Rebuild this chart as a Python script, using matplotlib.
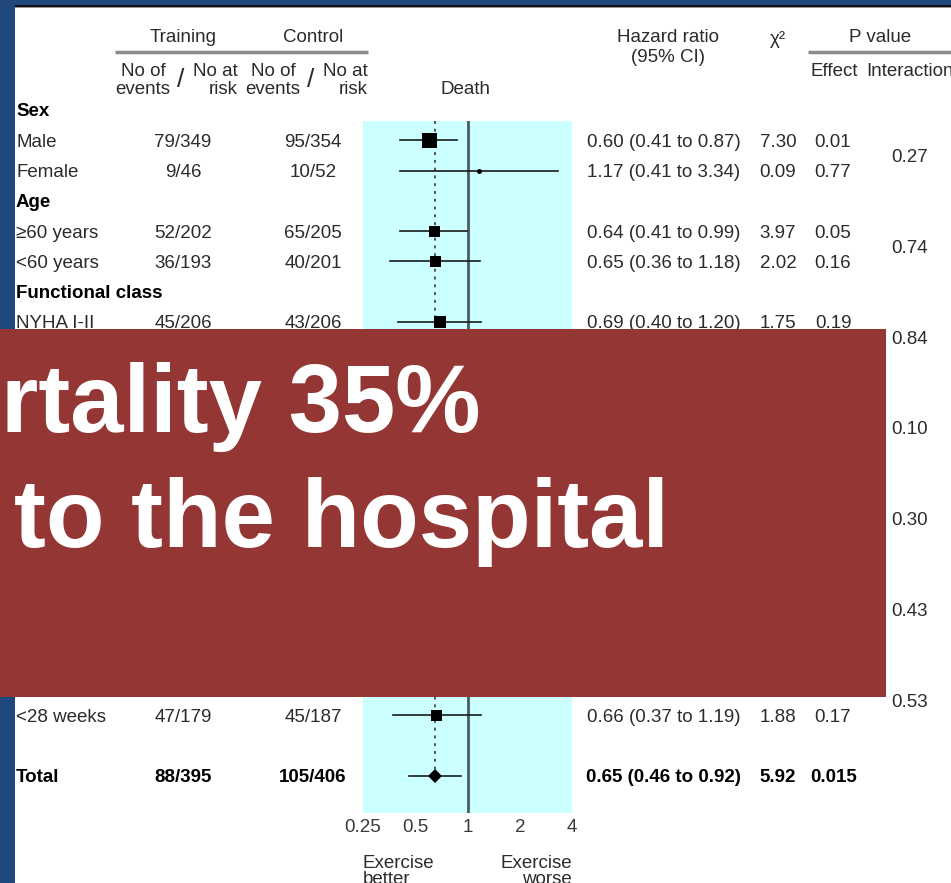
import matplotlib.pyplot as plt
from matplotlib.patches import Rectangle

# ── Data ──────────────────────────────────────────────────────────────────────
group_labels = ['Sex', 'Age', 'Functional class']
group_rows   = [0, 3, 6]

sub_labels = ['Male', 'Female', '≥60 years', '<60 years', 'NYHA I-II', '<28 weeks']
sub_rows   = [1, 2, 4, 5, 7, 20]
training   = ['79/349', '9/46', '52/202', '36/193', '45/206', '47/179']
control    = ['95/354', '10/52', '65/205', '40/201', '43/206', '45/187']
hr         = [0.60, 1.17, 0.64, 0.65, 0.69, 0.66]
hr_lo      = [0.41, 0.41, 0.41, 0.36, 0.40, 0.37]
hr_hi      = [0.87, 3.34, 0.99, 1.18, 1.20, 1.19]
chi2       = [7.30, 0.09, 3.97, 2.02, 1.75, 1.88]
p_effect   = ['0.01', '0.77', '0.05', '0.16', '0.19', '0.17']

interaction      = ['0.27', '0.74', '0.84', '0.10', '0.30', '0.43', '0.53']
interaction_rows = [1.5, 4.5, 7.5, 10.5, 13.5, 16.5, 19.5]

total_row = 22
total_training, total_control = '88/395', '105/406'
total_hr, total_lo, total_hi = 0.65, 0.46, 0.92
total_chi2, total_p = 5.92, '0.015'

xticks = [0.25, 0.5, 1, 2, 4]
xtick_labels = ['0.25', '0.5', '1', '2', '4']

# ── Style ─────────────────────────────────────────────────────────────────────
W, H = 951, 883
BLUE, RED, CYAN = '#1F497D', '#943634', '#CCFFFF'
TXT = '#2b2b2b'
FS = 13.5
DY = 2                              # text baseline nudge (pixels)
box_px = [15, 5, 11, 11, 12, 11]   # marker widths in pixels
plt.rcParams['font.family'] = ['Liberation Sans', 'DejaVu Sans']


def row_y(r):
    return 110 + 30.27 * r


fig = plt.figure(figsize=(W / 100, H / 100), dpi=100)
fig.patch.set_facecolor('white')

# background / table axes in pixel coordinates
bg = fig.add_axes([0, 0, 1, 1])
bg.set_xlim(0, W)
bg.set_ylim(H, 0)
bg.axis('off')

bg.add_patch(Rectangle((0, 0), 15, H, color=BLUE, lw=0))
bg.add_patch(Rectangle((0, 0), W, 4.5, color=BLUE, lw=0))
bg.add_patch(Rectangle((15, 4.5), W, 2, color='#111111', lw=0))
bg.add_patch(Rectangle((15, 6.5), W, 1, color='#999999', lw=0))

# column headers
hdr = dict(fontsize=FS, color=TXT, va='center')
bg.text(183, 36 + DY, 'Training', ha='center', **hdr)
bg.text(313, 36 + DY, 'Control', ha='center', **hdr)
bg.plot([115, 368], [52, 52], color='#8a8a8a', lw=2.5, solid_capstyle='butt')
for cx in (183, 313):
    bg.text(cx - 40, 70 + DY, 'No of', ha='center', **hdr)
    bg.text(cx - 40, 87 + DY, 'events', ha='center', **hdr)
    bg.text(cx + 55, 70 + DY, 'No at', ha='right', **hdr)
    bg.text(cx + 55, 87 + DY, 'risk', ha='right', **hdr)
    bg.text(cx - 2, 80, '/', ha='center', va='center', fontsize=19, color=TXT)
bg.text(465, 88 + DY, 'Death', ha='center', **hdr)
bg.text(668, 36 + DY, 'Hazard ratio', ha='center', **hdr)
bg.text(668, 55 + DY, '(95% CI)', ha='center', **hdr)
bg.text(778, 38 + DY, 'χ²', ha='center', **hdr)
bg.text(880, 36 + DY, 'P value', ha='center', **hdr)
bg.plot([808, W], [52, 52], color='#8a8a8a', lw=2.5, solid_capstyle='butt')
bg.text(810, 70 + DY, 'Effect', ha='left', **hdr)
bg.text(866, 70 + DY, 'Interaction', ha='left', **hdr)

# group headers
for lab, r in zip(group_labels, group_rows):
    bg.text(16, row_y(r) + DY, lab, ha='left', va='center', fontsize=FS,
            fontweight='bold', color='black')

# subgroup rows
for i, r in enumerate(sub_rows):
    y = row_y(r) + DY
    bg.text(16, y, sub_labels[i], ha='left', va='center', fontsize=FS, color=TXT)
    bg.text(183, y, training[i], ha='center', va='center', fontsize=FS, color=TXT)
    bg.text(313, y, control[i], ha='center', va='center', fontsize=FS, color=TXT)
    bg.text(587, y, f'{hr[i]:.2f} ({hr_lo[i]:.2f} to {hr_hi[i]:.2f})',
            ha='left', va='center', fontsize=FS, color=TXT)
    bg.text(778, y, f'{chi2[i]:.2f}', ha='center', va='center', fontsize=FS, color=TXT)
    bg.text(833, y, p_effect[i], ha='center', va='center', fontsize=FS, color=TXT)

for val, r in zip(interaction, interaction_rows):
    bg.text(910, row_y(r) + DY, val, ha='center', va='center', fontsize=FS, color=TXT)

# total row
ty = row_y(total_row)
tb = dict(va='center', fontsize=FS, fontweight='bold', color='black')
bg.text(16, ty + DY, 'Total', ha='left', **tb)
bg.text(183, ty + DY, total_training, ha='center', **tb)
bg.text(313, ty + DY, total_control, ha='center', **tb)
bg.text(586, ty + DY, f'{total_hr:.2f} ({total_lo:.2f} to {total_hi:.2f})', ha='left', **tb)
bg.text(778, ty + DY, f'{total_chi2:.2f}', ha='center', **tb)
bg.text(834, ty + DY, total_p, ha='center', **tb)

# axis captions
bg.text(363, 861 + DY, 'Exercise', ha='left', va='center', fontsize=FS, color=TXT)
bg.text(363, 877 + DY, 'better', ha='left', va='center', fontsize=FS, color=TXT)
bg.text(572, 861 + DY, 'Exercise', ha='right', va='center', fontsize=FS, color=TXT)
bg.text(572, 877 + DY, 'worse', ha='right', va='center', fontsize=FS, color=TXT)

# ── Forest plot ───────────────────────────────────────────────────────────────
x0, x1, y0, y1 = 363, 572, 121, 813
fa = fig.add_axes([x0 / W, 1 - y1 / H, (x1 - x0) / W, (y1 - y0) / H], zorder=2)
fa.set_facecolor(CYAN)
fa.set_xscale('log', base=2)
fa.set_xlim(0.25, 4)
fa.set_ylim(y1, y0)
for s in fa.spines.values():
    s.set_visible(False)
fa.set_yticks([])
fa.set_xticks(xticks)
fa.set_xticklabels(xtick_labels)
fa.minorticks_off()
fa.tick_params(axis='x', length=0, pad=4, labelsize=FS, labelcolor='#3a3a3a')

fa.axvline(1, color='#4d5c5c', lw=2)
fa.plot([total_hr, total_hr], [y0, ty], color='#555555', lw=1.4, ls=(0, (1.5, 2.5)))

for i, r in enumerate(sub_rows):
    y = row_y(r)
    fa.plot([hr_lo[i], hr_hi[i]], [y, y], color='#1a1a1a', lw=1.2)
    mk = 'o' if box_px[i] < 7 else 's'
    fa.plot(hr[i], y, marker=mk, ms=box_px[i] * 0.72, color='black', mew=0)

fa.plot([total_lo, total_hi], [ty, ty], color='#1a1a1a', lw=1.2)
fa.plot(total_hr, ty, marker='D', ms=7, color='black', mew=0)

# ── Overlay banner ────────────────────────────────────────────────────────────
ov = fig.add_axes([0, 0, 1, 1], zorder=3)
ov.set_xlim(0, W)
ov.set_ylim(H, 0)
ov.axis('off')
ov.patch.set_alpha(0)
ov.add_patch(Rectangle((0, 329), 886, 368, color=RED, lw=0))
ov.text(1, 432, 'rtality 35%', ha='left', va='baseline', fontsize=69,
        fontweight='bold', color='white')
ov.text(14, 547, 'to the hospital', ha='left', va='baseline', fontsize=69,
        fontweight='bold', color='white')

fig.savefig('out.png', dpi=100)
